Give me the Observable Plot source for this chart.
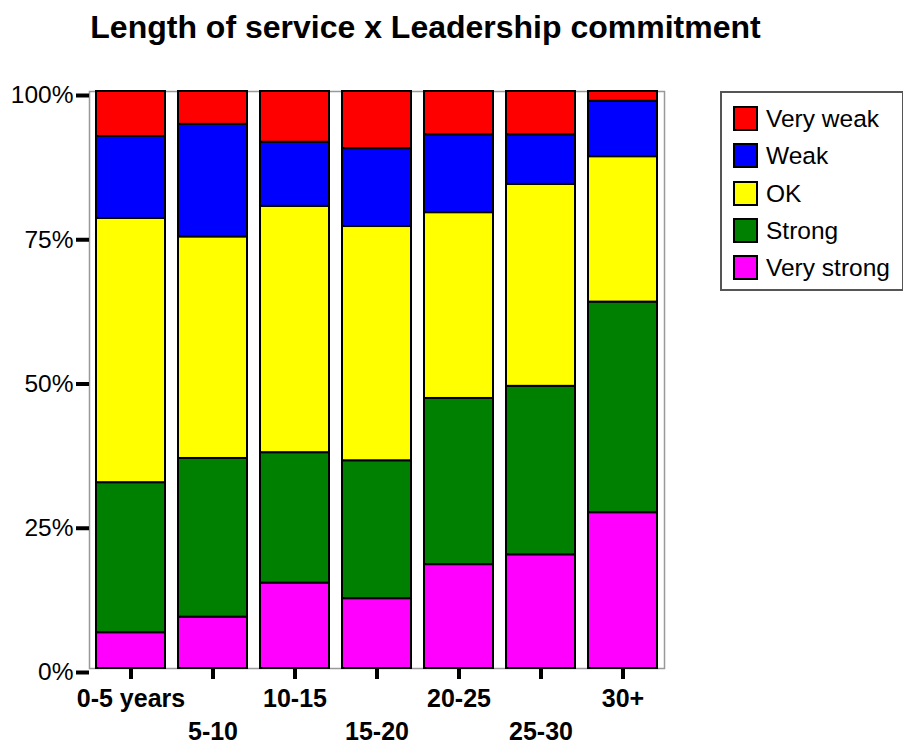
<!DOCTYPE html>
<html>
<head>
<meta charset="utf-8">
<script src="https://cdn.jsdelivr.net/npm/d3@7"></script>
<script src="https://cdn.jsdelivr.net/npm/@observablehq/plot@0.6"></script>
<style>
  html, body { margin: 0; padding: 0; background: #fff; }
  body { font-family: "Liberation Sans", Arial, sans-serif; }
  #wrap { position: relative; width: 903px; height: 740px; overflow: hidden; }
  #title { position: absolute; left: 0; width: 851px; top: 11px; text-align: center;
           font-weight: bold; font-size: 32px; line-height: 32px; color: #000; white-space: nowrap; }
  #legend { position: absolute; left: 720px; top: 91px; width: 180px; height: 196px;
            border: 2px solid #555; background: #fff; }
  .row { position: absolute; left: 11px; height: 25px; display: flex; align-items: center; }
  .sw { width: 21px; height: 21px; border: 2px solid #000; margin-right: 8px; }
  .lab { font-size: 24.5px; line-height: 25px; color: #000; white-space: nowrap; }
  #chart { position: absolute; left: 0; top: 0; }
</style>
</head>
<body>
<div id="wrap">
  <div id="chart"></div>
  <div id="title"></div>
  <div id="legend"></div>
</div>
<script>
const titleText = "Length of service x Leadership commitment";
const categories = ["0-5 years", "5-10", "10-15", "15-20", "20-25", "25-30", "30+"];
const levels = ["Very strong", "Strong", "OK", "Weak", "Very weak"];
const legendOrder = ["Very weak", "Weak", "OK", "Strong", "Very strong"];
const colors = ["#ff00ff", "#008000", "#ffff00", "#0000ff", "#ff0000"];
const veryStrong = [6.2, 8.9, 14.8, 12.1, 18.0, 19.7, 27.0];
const strong     = [26.0, 27.5, 22.6, 23.9, 28.8, 29.2, 36.5];
const ok         = [45.8, 38.4, 42.7, 40.6, 32.2, 35.0, 25.2];
const weak       = [14.2, 19.5, 11.1, 13.5, 13.5, 8.6, 9.6];
const veryWeak   = [7.8, 5.7, 8.8, 9.9, 7.5, 7.5, 1.7];
const yTicks = [0, 25, 50, 75, 100];

const series = [veryStrong, strong, ok, weak, veryWeak];
const data = [];
series.forEach((vals, li) => {
  vals.forEach((v, ci) => data.push({cat: categories[ci], level: levels[li], value: v}));
});

document.getElementById("title").textContent = titleText;

const evenCats = categories.filter((d, i) => i % 2 === 0);
const oddCats = categories.filter((d, i) => i % 2 === 1);

const chart = Plot.plot({
  width: 903,
  height: 740,
  marginTop: 91,
  marginBottom: 72,
  marginLeft: 89,
  marginRight: 239,
  style: {fontFamily: "'Liberation Sans', Arial, sans-serif", background: "transparent", overflow: "visible"},
  x: {type: "band", domain: categories, paddingInner: 0.16, paddingOuter: 0.073},
  y: {domain: [0, 100]},
  color: {domain: levels, range: colors},
  marks: [
    Plot.frame({stroke: "#999", strokeWidth: 1.5}),
    Plot.barY(data, {x: "cat", y: "value", fill: "level", z: "level", order: levels,
                     stroke: "#000", strokeWidth: 2}),
    Plot.axisY({ticks: yTicks, tickFormat: d => d + "%", tickSize: 13, tickPadding: 3,
                strokeWidth: 4, fontSize: 24.5, dy: 4, label: null}),
    Plot.axisX({tickSize: 11, strokeWidth: 4, tickFormat: () => "", label: null}),
    Plot.axisX(evenCats, {tickSize: 0, tickPadding: 21, fontSize: 25, fontWeight: "bold", label: null}),
    Plot.axisX(oddCats, {tickSize: 0, tickPadding: 54, fontSize: 25, fontWeight: "bold", label: null})
  ]
});
document.getElementById("chart").appendChild(chart);

const legend = document.getElementById("legend");
legendOrder.forEach((name, i) => {
  const row = document.createElement("div");
  row.className = "row";
  row.style.top = (13 + i * 37.25) + "px";
  const sw = document.createElement("div");
  sw.className = "sw";
  sw.style.background = colors[levels.indexOf(name)];
  const lab = document.createElement("div");
  lab.className = "lab";
  lab.textContent = name;
  row.appendChild(sw);
  row.appendChild(lab);
  legend.appendChild(row);
});
</script>
</body>
</html>
